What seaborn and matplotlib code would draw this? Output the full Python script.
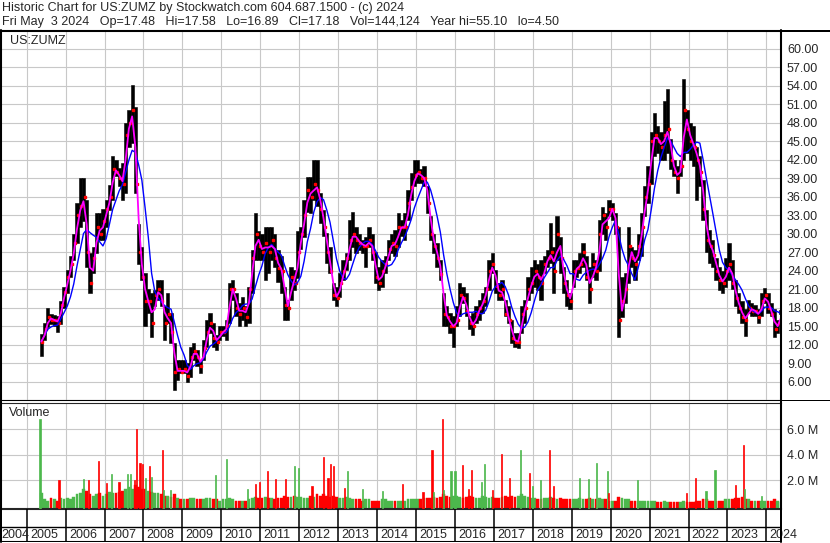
import numpy as np
import pandas as pd
import matplotlib
matplotlib.use("Agg")
import matplotlib.pyplot as plt
from matplotlib.lines import Line2D
import seaborn as sns

W, H = 830, 543

# monthly bars, May 2005 .. May 2024
months = pd.period_range("2005-05", "2024-05", freq="M")
high = [13.8, 15.5, 18.0, 17.0, 16.8, 16.6, 19.0, 21.4,
        24.1, 26.3, 30.0, 35.0, 39.0, 39.0, 35.4, 26.8, 27.9, 33.3, 33.3, 34.0,
        35.4, 37.9, 42.5, 42.0, 40.7, 41.4, 47.9, 50.1, 54.1, 50.6, 31.6, 27.9,
        23.6, 21.0, 20.3, 20.9, 22.5, 22.5, 18.2, 20.3, 17.1, 12.3, 9.5, 9.5,
        9.5, 9.0, 11.7, 12.3, 11.2, 9.5, 12.8, 16.0, 17.1, 15.5, 13.6, 15.0,
        15.0, 16.0, 22.0, 22.5, 20.3, 18.8, 19.8, 18.2, 21.4, 27.4, 33.3, 30.4,
        30.0, 31.0, 31.0, 31.0, 30.0, 27.4, 26.3, 21.4, 19.3, 24.6, 24.1, 30.4,
        31.0, 35.4, 39.2, 39.2, 42.0, 42.0, 36.6, 33.9, 30.1, 27.9, 22.0, 21.4,
        23.6, 25.7, 26.8, 32.2, 33.5, 31.0, 30.0, 29.0, 29.5, 31.0, 30.0, 27.0,
        24.6, 25.7, 26.3, 29.0, 30.0, 30.6, 33.3, 32.2, 33.3, 37.1, 39.8, 42.0,
        42.0, 40.4, 40.9, 37.7, 32.8, 30.0, 28.4, 25.7, 20.3, 18.2, 17.1, 16.6,
        18.2, 22.0, 21.4, 20.3, 16.6, 17.1, 18.2, 19.3, 20.3, 21.4, 25.7, 26.8,
        24.1, 22.0, 22.5, 19.3, 18.2, 16.0, 13.9, 13.9, 18.2, 19.3, 23.0, 24.6,
        25.7, 25.0, 25.7, 26.3, 27.4, 31.7, 27.9, 32.8, 29.5, 24.6, 22.5, 20.3,
        25.7, 25.7, 26.8, 28.4, 26.3, 24.6, 26.8, 25.7, 32.2, 34.3, 33.3, 35.5,
        35.0, 33.3, 31.0, 23.0, 23.6, 31.0, 27.9, 27.4, 30.0, 33.3, 37.7, 41.0,
        46.4, 49.5, 47.4, 46.4, 51.5, 53.4, 45.3, 42.0, 40.9, 42.0, 55.1, 50.1,
        48.0, 47.4, 44.0, 42.5, 38.7, 33.9, 30.6, 29.0, 26.0, 24.6, 24.0, 26.0,
        28.4, 25.7, 22.5, 20.3, 19.0, 17.7, 19.3, 18.8, 18.5, 17.7, 20.3, 21.2,
        20.3, 18.8, 17.7, 16.0, 17.58]
low = [10.2, 12.8, 14.8, 15.3, 15.0, 14.0, 15.3, 18.0,
       20.3, 23.0, 25.7, 28.5, 31.0, 32.0, 24.6, 20.3, 23.6, 26.8, 29.0, 29.0,
       31.0, 33.9, 35.5, 39.3, 37.7, 35.5, 36.6, 44.1, 44.7, 36.6, 25.0, 22.5,
       15.0, 17.2, 13.3, 18.2, 19.3, 18.2, 12.8, 15.5, 12.3, 4.7, 6.3, 7.4,
       7.4, 6.0, 6.8, 9.5, 8.5, 7.4, 9.5, 11.7, 13.9, 11.7, 11.2, 12.8,
       13.4, 12.8, 15.5, 19.3, 16.6, 15.0, 16.0, 15.0, 15.5, 20.3, 25.7, 25.7,
       25.7, 22.5, 23.6, 25.7, 24.6, 22.2, 20.3, 16.0, 16.0, 19.3, 20.9, 22.8,
       27.5, 29.5, 33.5, 33.3, 35.5, 34.5, 31.7, 29.6, 25.2, 23.6, 19.3, 18.2,
       19.8, 22.5, 24.1, 25.7, 27.9, 26.8, 27.4, 26.8, 24.6, 27.9, 25.7, 22.0,
       20.9, 21.4, 23.6, 25.7, 26.8, 26.3, 27.9, 29.6, 29.0, 32.2, 35.5, 37.7,
       38.2, 38.2, 37.7, 33.3, 29.0, 26.8, 24.6, 22.5, 15.0, 15.0, 13.9, 11.7,
       15.0, 16.6, 18.8, 16.6, 14.5, 13.6, 15.5, 16.0, 17.2, 18.2, 20.9, 23.6,
       20.3, 19.3, 19.3, 16.6, 15.5, 12.3, 11.7, 11.4, 13.9, 15.5, 19.3, 20.3,
       21.4, 20.9, 19.3, 23.6, 24.6, 25.2, 20.3, 25.7, 23.6, 20.3, 18.2, 17.7,
       21.4, 23.0, 23.6, 24.6, 22.5, 18.8, 23.0, 22.5, 24.0, 30.0, 29.0, 32.8,
       32.2, 30.0, 13.3, 16.5, 18.8, 22.0, 24.6, 22.5, 25.7, 26.3, 32.8, 35.0,
       38.0, 42.5, 43.0, 41.9, 42.0, 43.0, 40.4, 39.3, 36.6, 39.3, 42.0, 43.0,
       41.9, 40.9, 35.5, 37.7, 32.2, 27.0, 25.2, 24.6, 22.5, 20.9, 20.3, 21.4,
       22.5, 21.0, 18.2, 17.2, 15.5, 13.4, 17.2, 16.6, 16.6, 15.5, 16.6, 18.8,
       17.2, 16.6, 13.3, 13.9, 16.89]
close = [12.5, 14.5, 16.5, 16.0, 16.0, 15.5, 18.5, 20.5,
         23.0, 25.0, 28.5, 33.0, 34.5, 36.0, 27.0, 22.0, 26.0, 31.0, 30.0, 32.0,
         34.0, 36.0, 40.5, 40.0, 39.0, 38.0, 46.0, 48.0, 50.0, 38.0, 27.0, 23.0,
         19.0, 19.0, 15.5, 20.0, 21.0, 19.0, 15.5, 17.0, 14.0, 7.5, 8.0, 7.5,
         8.0, 7.0, 10.0, 11.0, 10.0, 8.5, 11.5, 14.0, 15.5, 13.0, 12.5, 14.0,
         14.0, 15.0, 21.0, 21.0, 18.0, 17.0, 18.0, 16.5, 21.0, 26.0, 30.0, 28.0,
         27.0, 28.5, 27.0, 29.0, 26.0, 24.5, 24.0, 18.5, 18.0, 23.0, 22.0, 27.0,
         30.0, 33.0, 37.0, 36.0, 38.0, 37.0, 34.0, 31.0, 27.0, 24.0, 20.0, 19.5,
         22.0, 24.0, 26.0, 29.0, 30.0, 29.0, 28.5, 28.0, 28.0, 29.0, 27.0, 23.0,
         22.0, 24.0, 25.0, 27.5, 28.5, 28.0, 31.0, 31.0, 31.0, 35.0, 37.5, 39.5,
         40.0, 39.0, 39.0, 35.0, 30.0, 28.0, 26.0, 23.5, 17.0, 16.5, 15.0, 15.0,
         16.0, 20.0, 19.5, 17.5, 15.5, 15.0, 17.0, 18.0, 19.0, 21.0, 24.0, 25.0,
         21.5, 20.0, 21.0, 17.0, 16.0, 13.0, 12.5, 12.5, 17.0, 18.0, 21.0, 22.0,
         24.0, 23.0, 22.0, 25.0, 26.0, 27.0, 24.0, 30.0, 26.0, 22.0, 20.0, 19.0,
         24.0, 24.5, 25.0, 27.0, 23.0, 21.0, 25.0, 24.0, 30.0, 33.0, 31.0, 34.0,
         34.0, 31.0, 16.0, 19.0, 21.0, 28.0, 26.0, 25.0, 28.0, 31.0, 36.0, 38.0,
         45.0, 46.0, 45.0, 44.0, 46.0, 47.0, 42.0, 40.0, 39.0, 41.0, 50.0, 47.0,
         45.0, 44.0, 42.0, 40.0, 34.0, 29.0, 28.0, 26.5, 24.0, 22.5, 22.0, 24.0,
         25.0, 22.0, 19.5, 18.0, 16.5, 16.0, 18.0, 17.5, 17.5, 16.5, 19.0, 20.0,
         18.0, 17.0, 14.5, 15.5, 17.18]
# typical volume level per month (millions)
volume = [1.0, 0.5, 0.4, 0.6, 0.5, 0.4, 0.6, 0.5,
          0.6, 0.5, 0.7, 0.9, 1.0, 1.3, 1.2, 0.9, 0.8, 0.9, 1.0, 0.8,
          0.9, 1.1, 1.0, 1.0, 1.1, 1.2, 1.3, 1.5, 1.3, 1.6, 1.5, 1.3,
          1.3, 1.2, 1.1, 1.0, 1.0, 0.9, 0.8, 0.8, 0.7, 0.9, 0.6, 0.5,
          0.5, 0.5, 0.6, 0.6, 0.5, 0.5, 0.5, 0.6, 0.6, 0.5, 0.5, 0.4,
          0.5, 0.5, 0.6, 0.5, 0.4, 0.4, 0.4, 0.4, 0.5, 0.6, 0.7, 0.6,
          0.6, 0.7, 0.6, 0.6, 0.5, 0.6, 0.6, 0.8, 0.7, 0.7, 0.8, 0.7,
          0.7, 0.6, 0.6, 0.8, 0.7, 0.9, 0.8, 0.9, 0.8, 0.7, 0.8, 0.7,
          0.6, 0.6, 0.7, 0.6, 0.5, 0.5, 0.5, 0.4, 0.5, 0.5, 0.4, 0.4,
          0.4, 0.5, 0.5, 0.4, 0.4, 0.4, 0.4, 0.4, 0.4, 0.5, 0.5, 0.5,
          0.5, 0.5, 0.6, 0.6, 0.6, 0.7, 0.6, 0.7, 0.9, 0.8, 0.7, 0.8,
          0.8, 0.7, 0.6, 0.7, 0.8, 0.7, 0.6, 0.6, 0.8, 0.7, 0.6, 0.7,
          0.6, 0.6, 0.7, 0.8, 0.7, 0.8, 0.7, 0.8, 0.9, 0.8, 0.7, 0.6,
          0.6, 0.5, 0.5, 0.6, 0.6, 0.7, 0.6, 0.5, 0.6, 0.5, 0.5, 0.5,
          0.5, 0.5, 0.6, 0.5, 0.5, 0.6, 0.5, 0.5, 0.6, 0.5, 0.5, 0.4,
          0.4, 0.4, 0.7, 0.6, 0.5, 0.5, 0.4, 0.4, 0.4, 0.4, 0.4, 0.4,
          0.4, 0.4, 0.3, 0.3, 0.4, 0.3, 0.3, 0.3, 0.3, 0.3, 0.4, 0.3,
          0.3, 0.3, 0.4, 0.4, 0.5, 0.5, 0.4, 0.4, 0.4, 0.4, 0.4, 0.5,
          0.5, 0.5, 0.6, 0.6, 0.7, 0.5, 0.5, 0.4, 0.4, 0.4, 0.4, 0.4,
          0.4, 0.4, 0.5, 0.4, 0.3]

# single-day volume spikes (decimal year, millions, up/down)
spike_t = [2005.34, 2005.83, 2006.45, 2006.59, 2006.85, 2007.05, 2007.18, 2007.37,
           2007.59, 2007.67, 2007.76, 2007.82, 2007.91, 2007.98, 2008.06, 2008.16,
           2008.21, 2008.49, 2008.51, 2008.70, 2009.85, 2010.13, 2010.68, 2010.88,
           2010.98, 2011.18, 2011.39, 2011.65, 2011.88, 2011.98, 2012.33, 2012.62,
           2012.74, 2012.80, 2012.89, 2013.16, 2013.25, 2013.63, 2014.15, 2014.66,
           2015.18, 2015.41, 2015.45, 2015.68, 2015.71, 2015.90, 2016.00, 2016.20,
           2016.35, 2016.42, 2016.68, 2016.76, 2016.96, 2017.19, 2017.40, 2017.68,
           2017.91, 2017.99, 2018.20, 2018.42, 2018.54, 2019.20, 2019.43, 2019.64,
           2019.92, 2019.95, 2020.68, 2021.95, 2022.17, 2022.45, 2022.68, 2023.20,
           2023.42, 2023.44, 2023.88]
spike_v = [6.8, 2.0, 2.1, 2.0, 3.5, 1.8, 2.5, 1.9,
           2.5, 2.5, 2.0, 6.0, 3.4, 3.3, 2.2, 3.1,
           2.3, 4.4, 1.25, 1.25, 2.4, 3.7, 1.3, 1.7,
           1.9, 2.7, 2.1, 2.1, 3.1, 3.0, 1.55, 3.8,
           2.2, 3.3, 3.1, 1.4, 2.7, 1.3, 1.2, 1.7,
           1.1, 4.4, 1.1, 6.8, 1.25, 2.7, 2.7, 3.2,
           1.3, 2.8, 1.9, 3.3, 1.25, 4.05, 2.2, 4.35,
           2.6, 1.55, 2.0, 4.35, 1.55, 2.2, 2.1, 3.35,
           2.7, 1.0, 2.0, 1.0, 2.2, 1.2, 2.8, 1.6,
           4.8, 1.3, 0.8]
spike_up = [1, 0, 1, 0, 0, 0, 1, 0,
            1, 1, 0, 0, 0, 0, 1, 0,
            1, 0, 1, 1, 1, 1, 1, 0,
            0, 0, 0, 0, 1, 1, 0, 0,
            0, 0, 0, 0, 1, 1, 1, 0,
            0, 0, 1, 0, 1, 1, 1, 0,
            0, 0, 1, 1, 0, 0, 0, 1,
            0, 1, 1, 0, 0, 1, 1, 1,
            1, 0, 1, 0, 0, 1, 1, 0,
            0, 1, 1]

year_starts = list(range(2005, 2025))
price_ticks = np.arange(6, 61, 3)
vol_ticks = [2, 4, 6]

RED, GREEN, MAG, BLUE, GRID = "#ff0000", "#4cb84c", "#ff00ff", "#0000ff", "#c8c8c8"
FS = 9.0

sns.set_style("white")
plt.rcParams["font.family"] = ["Liberation Sans", "DejaVu Sans"]
plt.rcParams["font.size"] = FS

df = pd.DataFrame({"t": months.year + (months.month - 0.5) / 12,
                   "high": high, "low": low, "close": close, "volume": volume})
df["fast"] = df["close"].rolling(2, min_periods=1).mean()
df["slow"] = df["close"].rolling(6, min_periods=1).mean()
df["up"] = df["close"].diff().fillna(1) >= 0

fig = plt.figure(figsize=(W / 100, H / 100), dpi=100)


def px_axes(x0, y0, x1, y1):
    return fig.add_axes([x0 / W, 1 - y1 / H, (x1 - x0) / W, (y1 - y0) / H])


def fig_line(x0, y0, x1, y1, lw=1.0, color="black"):
    fig.add_artist(Line2D([x0 / W, x1 / W], [1 - y0 / H, 1 - y1 / H],
                          transform=fig.transFigure, lw=lw * 0.72, color=color))


XMIN, XMAX = 2004.34, 2024.376
VMIN = -0.25

# ---- price panel
ax = px_axes(1, 31, 781, 400)
ax.set_xlim(XMIN, XMAX)
ax.set_ylim(3.03, 62.84)
for y in np.arange(3, 64, 3):
    ax.axhline(y, color=GRID, lw=0.8, zorder=0)
for yr in year_starts:
    ax.axvline(yr, color=GRID, lw=0.8, zorder=0)
ax.bar(df["t"], df["high"] - df["low"], bottom=df["low"], width=1 / 12,
       color="black", edgecolor="black", linewidth=0.4, zorder=2)
ax.plot(df["t"] + 0.03, df["close"], ls="none", marker="s", ms=1.5,
        color=RED, zorder=3)
sns.lineplot(data=df, x="t", y="slow", color=BLUE, lw=1.0, ax=ax, zorder=4)
sns.lineplot(data=df, x="t", y="fast", color=MAG, lw=1.3, ax=ax, zorder=5)
ax.yaxis.tick_right()
ax.set_yticks(price_ticks)
ax.set_yticklabels([f"{v:.2f}" for v in price_ticks])
ax.tick_params(axis="y", length=0, pad=4.3, labelsize=FS)
ax.set_xticks([])
ax.set_xlabel("")
ax.set_ylabel("")
ax.text(9 / 780, 1 - 10 / 369, "US:ZUMZ", transform=ax.transAxes,
        ha="left", va="center", fontsize=FS)
for s in ["left", "right", "top"]:
    ax.spines[s].set_linewidth(1.5)
ax.spines["bottom"].set_linewidth(0.8)

# ---- volume panel
av = px_axes(1, 402.5, 781, 509)
av.set_xlim(XMIN, XMAX)
av.set_ylim(VMIN, 8.12)
for y in vol_ticks:
    av.axhline(y, color=GRID, lw=0.8, zorder=0)
for yr in year_starts:
    av.axvline(yr, color=GRID, lw=0.8, zorder=0)
vcol = [GREEN if u else RED for u in df["up"]]
av.bar(df["t"], df["volume"] - VMIN, bottom=VMIN, width=0.85 / 12,
       color=vcol, edgecolor=vcol, linewidth=0.3, zorder=2)
scol = [GREEN if u else RED for u in spike_up]
av.bar(spike_t, np.array(spike_v) - VMIN, bottom=VMIN, width=0.03,
       color=scol, edgecolor=scol, linewidth=0.5, zorder=3)
av.yaxis.tick_right()
av.set_yticks(vol_ticks)
av.set_yticklabels([f"{v:.1f} M" for v in vol_ticks])
av.tick_params(axis="y", length=0, pad=4.3, labelsize=FS)
av.set_xticks([])
av.text(8 / 780, 1 - 10.5 / 106.5, "Volume", transform=av.transAxes,
        ha="left", va="center", fontsize=FS)
for s in ["left", "right", "bottom"]:
    av.spines[s].set_linewidth(1.5)
av.spines["top"].set_linewidth(0.8)

# ---- year strip
ay = px_axes(1, 509, 781, 542)
ay.set_xlim(XMIN, XMAX)
ay.set_ylim(33, 0)
ay.axis("off")
ay.axhline(17.5, color="black", lw=1.0)
ay.axhline(32.5, color="black", lw=1.5)
for yr in year_starts:
    ay.plot([yr, yr], [0, 33], color="black", lw=1.1)
ay.text(2004.358, 25.5, "2004", ha="left", va="center", fontsize=FS, clip_on=False)
for yr in year_starts:
    ay.text(yr + 0.085, 25.5, str(yr), ha="left", va="center", fontsize=FS,
            clip_on=False)

# ---- frame lines and header
fig_line(0, 30.5, W, 30.5, lw=2)
fig_line(1, 400, W, 400, lw=1)
fig_line(781, 30, 781, 542, lw=2)
fig_line(1, 30, 1, 542, lw=2)
fig.text(2 / W, 1 - 8 / H,
         "Historic Chart for US:ZUMZ by Stockwatch.com 604.687.1500 - (c) 2024",
         ha="left", va="center", fontsize=FS)
fig.text(2 / W, 1 - 22 / H,
         "Fri May  3 2024   Op=17.48   Hi=17.58   Lo=16.89   Cl=17.18   "
         "Vol=144,124   Year hi=55.10   lo=4.50",
         ha="left", va="center", fontsize=FS)

fig.savefig("out.png", dpi=100)
